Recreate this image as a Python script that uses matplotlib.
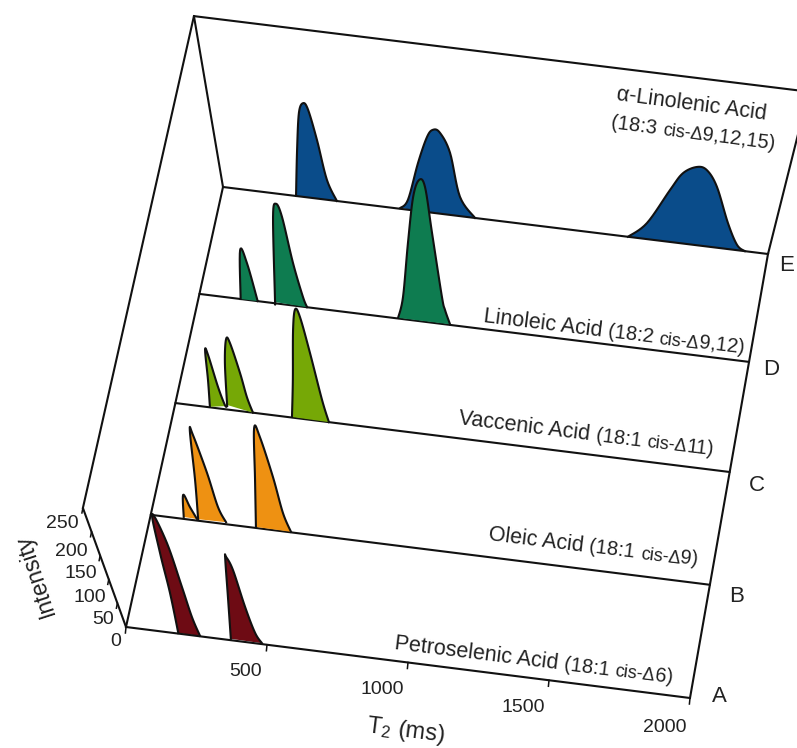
import matplotlib
matplotlib.use('Agg')
import matplotlib.pyplot as plt
import numpy as np

plt.rcParams['font.family'] = ['Liberation Sans', 'DejaVu Sans']
plt.rcParams['mathtext.fontset'] = 'custom'
plt.rcParams['mathtext.rm'] = 'Liberation Sans'
plt.rcParams['mathtext.it'] = 'Liberation Sans:italic'

# peaks: T2 (ms) and intensity
a1_t = [186, 200, 207, 219, 240, 248, 253, 263]
a1_i = [1, 87, 172, 256, 196, 104, 40, 1]
a2_t = [373, 399, 421, 425, 438, 451, 466, 483]
a2_i = [3, 94, 179, 182, 155, 77, 23, 2]
b1_t = [120, 139, 152, 167]
b1_i = [4, 47, 25, 3]
b2_t = [171, 195, 218, 225, 243, 254, 271]
b2_i = [3, 79, 174, 167, 96, 32, 4]
b3_t = [377, 406, 435, 449, 470, 484, 502]
b3_i = [2, 94, 195, 179, 104, 36, 1]
c1_t = [125, 139, 151, 158, 170, 182, 189]
c1_i = [1, 48, 100, 92, 38, 7, 6]
c2_t = [190, 212, 232, 243, 259, 268, 280]
c2_i = [8, 82, 124, 118, 67, 26, 0]
c3_t = [421, 443, 467, 483, 496, 515, 538, 554]
c3_i = [1, 67, 155, 192, 179, 118, 38, 0]
d1_t = [150, 178, 195, 212]
d1_i = [0, 79, 59, 0]
d2_t = [276, 278, 311, 327, 342, 360, 381, 392]
d2_i = [2, 10, 139, 161, 141, 69, 16, 0]
d3_t = [723, 744, 768, 790, 811, 830, 851, 883, 894, 912]
d3_i = [1, 36, 124, 199, 228, 218, 145, 44, 23, 1]
e1_t = [268, 291, 312, 330, 345, 366, 388, 418]
e1_i = [0, 69, 125, 140, 131, 87, 30, 0]
e2_t = [650, 680, 720, 753, 774, 798, 833, 869, 925]
e2_i = [1, 15, 72, 112, 124, 121, 93, 29, 0]
e3_t = [1486, 1547, 1610, 1644, 1688, 1724, 1769, 1833, 1882, 1915]
e3_i = [0, 24, 78, 105, 117, 114, 91, 39, 8, 0]

series_depth = [1, .757, .509, .255, 0]
series_colors = ['#0A4C8A', '#0E7C50', '#76A806', '#EE9112', '#6E0B14']
series_base_on_top = [True, False, False, False, True]
series_peaks = [
    [(e1_t, e1_i), (e2_t, e2_i), (e3_t, e3_i)],
    [(d1_t, d1_i), (d2_t, d2_i), (d3_t, d3_i)],
    [(c1_t, c1_i), (c2_t, c2_i), (c3_t, c3_i)],
    [(b1_t, b1_i), (b2_t, b2_i), (b3_t, b3_i)],
    [(a1_t, a1_i), (a2_t, a2_i)],
]

t_ticks = [500, 1000, 1500, 2000]
i_ticks = [50, 100, 150, 200, 250]

# the box as it lies on the page, in pixels
front_left = np.array([126., 627.])
front_right = np.array([690., 698.])
back_left = np.array([223., 187.])
back_right = np.array([768., 254.])
vanish = np.array([450., 1522.])


def project(t, depth, intensity):
    t = np.asarray(t, float) / 2000
    intensity = np.asarray(intensity, float)
    start = front_left + depth * (back_left - front_left)
    end = front_right + depth * (back_right - front_right)
    floor = start[:, None] + (end - start)[:, None] * t
    k = .133 - .005 * depth
    pts = vanish[:, None] + (floor - vanish[:, None]) * (1 + k * intensity / 250)
    return pts[0], pts[1]


# rounds the outline between the read points, like the smoothed lines of the original
def rounded(x, y, n=8):
    p = np.column_stack([x, y])
    p = np.vstack([p[0], p, p[-1]])
    out = []
    for i in range(1, len(p) - 2):
        for s in np.linspace(0, 1, n, endpoint=False):
            out.append(.5 * (2 * p[i] + (p[i + 1] - p[i - 1]) * s
                             + (2 * p[i - 1] - 5 * p[i] + 4 * p[i + 1] - p[i + 2]) * s ** 2
                             + (-p[i - 1] + 3 * p[i] - 3 * p[i + 1] + p[i + 2]) * s ** 3))
    out.append(p[-2])
    out = np.array(out)
    return out[:, 0], out[:, 1]


fig = plt.figure(figsize=(7.97, 7.48), dpi=100)
ax = fig.add_axes([0, 0, 1, 1])
ax.set_xlim(0, 797)
ax.set_ylim(748, 0)
ax.axis('off')

lw = 1.5
line_color = '#111111'


def edge(t, depth, intensity, z=2):
    x, y = project(t, depth, intensity)
    ax.plot(x, y, color=line_color, lw=lw, solid_capstyle='round', zorder=z)


def side(t, intensity):
    x, y = project([t], 0, [intensity])
    x2, y2 = project([t], 1, [intensity])
    ax.plot([x[0], x2[0]], [y[0], y2[0]], color=line_color, lw=lw, zorder=2)


# walls
edge([0, 0], 0, [0, 250])
edge([0, 0], 1, [0, 250])
edge([2000, 2000], 1, [0, 250])
edge([0, 2000], 1, [250, 250])
side(0, 250)
side(0, 0)
side(2000, 0)

for n, (depth, color, peaks) in enumerate(zip(series_depth, series_colors, series_peaks)):
    z = 3 + 2 * n
    edge([0, 2000], depth, [0, 0], z=z + 1 if series_base_on_top[n] else z - 1)
    for pk_t, pk_i in peaks:
        x, y = rounded(*project(pk_t, depth, pk_i))
        ax.fill(x, y, color=color, lw=0, zorder=z)
        ax.plot(x, y, color=line_color, lw=lw, zorder=z + 1, solid_joinstyle='round')

# ticks
for t in [0] + t_ticks:
    x, y = project([t], 0, [0])
    ax.plot([x[0], x[0] - .6], [y[0], y[0] + 6], color=line_color, lw=1.1)
for i in i_ticks:
    x, y = project([0], 0, [i])
    ax.plot([x[0], x[0] - 1], [y[0], y[0] + 5], color=line_color, lw=1.1)

fs = 14
tc = '#222222'
for lab, px, py in zip(['0', '50', '100', '150', '200', '250'],
                       [116, 103, 90, 81, 71, 62], [642, 620, 598, 574, 551, 523]):
    ax.text(px, py, lab, fontsize=fs, color=tc, ha='center', va='center')
for lab, px, py in zip(t_ticks, [246, 382, 523, 665], [671, 689, 707, 727]):
    ax.text(px, py, str(lab), fontsize=fs, color=tc, ha='center', va='center')
for lab, px, py in zip(['A', 'B', 'C', 'D', 'E'], [719, 737, 757, 771, 787], [696, 597, 485, 369, 265]):
    ax.text(px, py, lab, fontsize=fs + 2, color=tc, ha='center', va='center')

ax.text(35, 575, 'Intensity', fontsize=16.5, color=tc, rotation=108, ha='center', va='center',
        rotation_mode='anchor')
ax.text(406, 731, r'T$_{\mathrm{2}}$ (ms)', fontsize=17, color=tc, rotation=-7, ha='center', va='center',
        rotation_mode='anchor')


# label of mixed sizes along one slanted baseline
def label(x, y, runs, rot=-7):
    renderer = fig.canvas.get_renderer()
    a = np.radians(-rot)
    for txt, size in runs:
        t = ax.text(x, y, txt, fontsize=size, color=tc, rotation=0, ha='left', va='baseline',
                    rotation_mode='anchor')
        w = t.get_window_extent(renderer).width
        t.set_rotation(rot)
        x += w * np.cos(a)
        y += w * np.sin(a)


big, mid, small = 15.5, 14.5, 13
label(394, 649, [('Petroselenic Acid ', big), ('(18:1 ', mid), ('cis-\u0394', small), ('6)', mid)])
label(488, 540, [('Oleic Acid ', big), ('(18:1 ', mid), ('cis-\u0394', small), ('9)', mid)])
label(458, 424, [('Vaccenic Acid ', big), ('(18:1 ', mid), ('cis-\u0394', small), ('11)', mid)])
label(483, 322, [('Linoleic Acid ', big), ('(18:2 ', mid), ('cis-\u0394', small), ('9,12)', mid)])
label(616, 100, [('\u03b1-Linolenic Acid', big)], rot=-7.5)
label(611, 128, [('(18:3 ', mid), ('cis-\u0394', small), ('9,12,15)', mid)], rot=-7.5)

fig.savefig('out.png', dpi=100)
